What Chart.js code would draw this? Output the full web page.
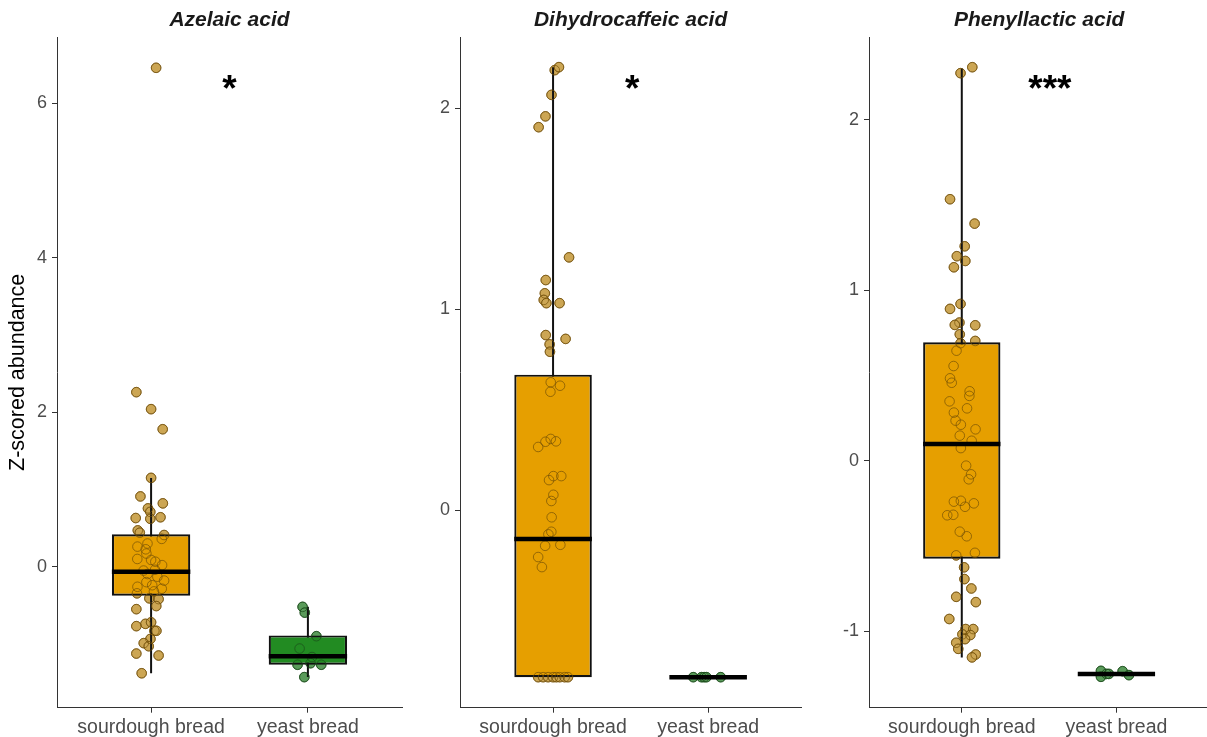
<!DOCTYPE html>
<html><head><meta charset="utf-8">
<script src="https://cdn.jsdelivr.net/npm/chart.js@4.4.1/dist/chart.umd.min.js"></script>
<style>
html,body{margin:0;padding:0;overflow:hidden;background:#fff;width:1207px;height:737px;}
canvas{position:absolute;top:0;}
</style></head>
<body>
<canvas id="c1" width="410" height="737" style="left:0px"></canvas>
<canvas id="c2" width="397" height="737" style="left:410px"></canvas>
<canvas id="c3" width="400" height="737" style="left:815px"></canvas>
<script>
// ---------- DATA ----------
const categories = ['sourdough bread', 'yeast bread'];
const panelTitles = ['Azelaic acid', 'Dihydrocaffeic acid', 'Phenyllactic acid'];
const significance = ['*', '*', '***'];
const sigX = [1.5, 1.51, 1.57];
const sigY = [6.27, 2.13, 2.22];
const yAxisTitle = 'Z-scored abundance';

// Azelaic acid
const azelaicTicks = [0, 2, 4, 6];
const azelaicRange = [-1.826, 6.859];
const azelaicWhiskerLow = [-1.38, -1.43];
const azelaicQ1 = [-0.375, -1.27];
const azelaicMedian = [-0.065, -1.16];
const azelaicQ3 = [0.42, -0.89];
const azelaicWhiskerHigh = [1.15, -0.52];
const azelaicSourdough = [6.46, 2.26, 2.04, 1.78, 1.15, 0.91, 0.82, 0.755, 0.71, 0.63, 0.64, 0.62, 0.47, 0.44, 0.41, 0.36, 0.30, 0.26, 0.225, 0.17, 0.10, 0.087, 0.065, 0.02, -0.05, -0.04, -0.095, -0.13, -0.18, -0.20, -0.24, -0.26, -0.285, -0.32, -0.345, -0.41, -0.42, -0.51, -0.55, -0.74, -0.72, -0.77, -0.83, -0.83, -0.935, -0.99, -1.03, -1.125, -1.15, -1.38];
const azelaicSourdoughJitter = [0.032, -0.094, 0, 0.074, 0, -0.068, 0.075, -0.02, -0.005, -0.098, 0.06, -0.005, -0.085, -0.072, 0.083, 0.068, -0.023, -0.087, -0.034, -0.03, -0.088, 0, 0.027, 0.07, -0.048, 0.025, -0.023, 0.04, 0.083, -0.03, 0.007, -0.087, 0.068, 0.018, -0.09, -0.011, 0.048, 0.033, -0.094, -0.036, 0, -0.094, 0.021, 0.034, -0.004, -0.047, -0.015, -0.094, 0.048, -0.06];
const azelaicYeast = [-0.52, -0.595, -0.90, -1.06, -1.17, -1.27, -1.25, -1.27, -1.43];
const azelaicYeastJitter = [-0.034, -0.02, 0.054, -0.053, 0.026, -0.066, 0.017, 0.085, -0.023];

// Dihydrocaffeic acid
const dihydroTicks = [0, 1, 2];
const dihydroRange = [-0.984, 2.355];
const dihydroWhiskerLow = [-0.832, -0.832];
const dihydroQ1 = [-0.832, -0.832];
const dihydroMedian = [-0.144, -0.832];
const dihydroQ3 = [0.674, -0.832];
const dihydroWhiskerHigh = [2.205, -0.832];
const dihydroSourdough = [2.19, 2.205, 2.067, 1.96, 1.906, 1.258, 1.145, 1.079, 1.046, 1.03, 1.03, 0.871, 0.852, 0.825, 0.788, 0.636, 0.619, 0.589, 0.314, 0.34, 0.354, 0.342, 0.149, 0.169, 0.169, 0.076, 0.045, -0.036, -0.108, -0.121, -0.178, -0.173, -0.234, -0.284, -0.832, -0.832, -0.832, -0.832, -0.832, -0.832, -0.832, -0.832];
const dihydroSourdoughJitter = [0.011, 0.038, -0.01, -0.049, -0.093, 0.103, -0.047, -0.053, -0.06, -0.043, 0.042, -0.047, 0.081, -0.022, -0.02, -0.015, 0.045, -0.017, -0.096, -0.049, -0.015, 0.019, -0.026, 0.002, 0.053, 0.002, -0.011, -0.009, -0.011, -0.03, -0.051, 0.047, -0.096, -0.072, -0.096, -0.064, -0.032, 0, 0.021, 0.043, 0.075, 0.096];
const dihydroYeast = [-0.832, -0.832, -0.832, -0.832, -0.832];
const dihydroYeastJitter = [-0.096, -0.043, -0.026, -0.011, 0.081];

// Phenyllactic acid
const phenylTicks = [-1, 0, 1, 2];
const phenylRange = [-1.448, 2.484];
const phenylWhiskerLow = [-1.153, -1.251];
const phenylQ1 = [-0.575, -1.251];
const phenylMedian = [0.098, -1.251];
const phenylQ3 = [0.694, -1.251];
const phenylWhiskerHigh = [2.30, -1.251];
const phenylSourdough = [2.272, 2.307, 1.533, 1.39, 1.257, 1.199, 1.171, 1.134, 0.919, 0.89, 0.81, 0.796, 0.794, 0.741, 0.702, 0.689, 0.645, 0.555, 0.483, 0.457, 0.407, 0.38, 0.348, 0.307, 0.282, 0.235, 0.211, 0.184, 0.147, 0.117, 0.074, -0.029, -0.08, -0.109, -0.24, -0.235, -0.27, -0.25, -0.32, -0.317, -0.416, -0.443, -0.555, -0.54, -0.625, -0.694, -0.749, -0.798, -0.829, -0.928, -0.987, -0.987, -1.018, -1.022, -1.046, -1.067, -1.103, -1.136, -1.153];
const phenylSourdoughJitter = [-0.008, 0.068, -0.076, 0.083, 0.019, -0.032, 0.023, -0.051, -0.008, -0.076, -0.015, -0.045, 0.087, -0.013, 0.087, -0.008, -0.034, -0.053, -0.076, -0.065, 0.051, 0.049, -0.079, 0.034, -0.051, -0.04, -0.006, 0.089, -0.013, 0.064, -0.006, 0.028, 0.06, 0.045, -0.051, -0.006, 0.021, 0.078, -0.094, -0.055, -0.013, 0.032, -0.036, 0.085, 0.015, 0.017, 0.062, -0.036, 0.091, -0.081, 0.025, 0.074, 0.004, 0.055, 0.021, -0.036, -0.023, 0.09, 0.066];
const phenylYeast = [-1.232, -1.267, -1.25, -1.25, -1.234, -1.257];
const phenylYeastJitter = [-0.1, -0.1, -0.064, -0.049, 0.04, 0.081];

// ---------- STYLE ----------
const FONT = '"Liberation Sans", Arial, Helvetica, sans-serif';
const BOX_HALF = 0.25;
const SIG_SIZE = 37;
const boxColors = ['#E69F00', '#228B22'];
const pointFill = ['#CCA654', '#5A9B5A'];
const pointEdge = ['rgba(135,102,40,0.75)', 'rgba(40,90,40,0.75)'];
const pointEdgeTop = ['rgba(115,80,5,0.7)', 'rgba(25,75,25,0.7)'];

Chart.defaults.font.family = FONT;
Chart.defaults.animation = false;

const panelText = {
  id: 'panelText',
  afterDatasetsDraw(chart, args, opts) {
    const {ctx, chartArea, scales} = chart;
    ctx.save();
    ctx.fillStyle = '#1a1a1a';
    ctx.font = 'italic bold 21px ' + FONT;
    ctx.textAlign = 'center';
    ctx.textBaseline = 'alphabetic';
    ctx.fillText(opts.title, (chartArea.left + chartArea.right) / 2, 26);
    ctx.fillStyle = '#000';
    ctx.font = 'bold ' + SIG_SIZE + 'px ' + FONT;
    const sx = scales.x.getPixelForValue(opts.sigX);
    const sy = scales.y.getPixelForValue(opts.sigY);
    ctx.fillText(opts.sig, sx, sy + 0.5 * SIG_SIZE);
    ctx.restore();
  }
};

function makePanel(id, idx, p, axisWidth, padRight, showTitle) {
  const datasets = [];
  const groups = [p.sour, p.yeast];
  const jit = [p.sourJ, p.yeastJ];
  categories.forEach((cat, i) => {
    const c = i + 1;
    const pts = groups[i].map((v, k) => ({x: c + jit[i][k], y: v}));
    datasets.push({type: 'scatter', data: pts, backgroundColor: pointFill[i], borderColor: pointEdge[i], borderWidth: 1, pointRadius: 4.8, order: 6});
    datasets.push({type: 'scatter', data: pts, backgroundColor: 'rgba(0,0,0,0)', borderColor: pointEdgeTop[i], borderWidth: 1, pointRadius: 4.8, order: 2});
    datasets.push({type: 'line', data: [{x: c, y: p.wlo[i]}, {x: c, y: p.whi[i]}], borderColor: '#111', borderWidth: 2, pointRadius: 0, order: 5});
    datasets.push({type: 'line', data: [{x: c - BOX_HALF, y: p.med[i]}, {x: c + BOX_HALF, y: p.med[i]}], borderColor: '#000', borderWidth: 4.5, borderCapStyle: 'butt', pointRadius: 0, order: 1});
  });
  datasets.push({type: 'bar', data: categories.map((c, i) => ({x: i + 1, y: [p.q1[i], p.q3[i]]})),
    backgroundColor: boxColors, borderColor: '#111', borderWidth: 2.2, borderSkipped: false,
    categoryPercentage: 1, barPercentage: 0.5, order: 4});

  new Chart(document.getElementById(id), {
    type: 'bar',
    data: {datasets},
    plugins: [panelText],
    options: {
      responsive: false,
      devicePixelRatio: 1,
      layout: {padding: {top: 37, right: padRight, bottom: 0, left: 0}},
      plugins: {
        legend: {display: false},
        tooltip: {enabled: false},
        panelText: {title: panelTitles[idx], sig: significance[idx], sigX: sigX[idx], sigY: sigY[idx]}
      },
      scales: {
        x: {
          type: 'linear', min: 0.4, max: 2.6, offset: false,
          grid: {display: true, drawOnChartArea: false, drawTicks: true, tickLength: 5, color: '#333', offset: false},
          border: {display: true, color: '#333', width: 1},
          ticks: {color: '#4D4D4D', font: {size: 19.5}, padding: 3, maxRotation: 0, autoSkip: false,
            callback: (v) => categories[Math.round(v) - 1]},
          afterBuildTicks: (s) => { s.ticks = categories.map((c, i) => ({value: i + 1})); },
          afterFit: (s) => { s.height = 29.3; }
        },
        y: {
          type: 'linear', min: p.range[0], max: p.range[1],
          grid: {display: true, drawOnChartArea: false, drawTicks: true, tickLength: 5, color: '#333'},
          border: {display: true, color: '#333', width: 1},
          ticks: {color: '#4D4D4D', font: {size: 18}, padding: 5, callback: (v) => String(v)},
          title: {display: showTitle, text: yAxisTitle, color: '#000', font: {size: 21.5}, padding: {top: 5, bottom: 0}},
          afterBuildTicks: (s) => { s.ticks = p.ticks.map(v => ({value: v})); },
          afterFit: (s) => { s.width = axisWidth; }
        }
      }
    }
  });
}

makePanel('c1', 0, {sour: azelaicSourdough, sourJ: azelaicSourdoughJitter, yeast: azelaicYeast, yeastJ: azelaicYeastJitter,
  wlo: azelaicWhiskerLow, q1: azelaicQ1, med: azelaicMedian, q3: azelaicQ3, whi: azelaicWhiskerHigh, ticks: azelaicTicks, range: azelaicRange}, 57, 8, true);
makePanel('c2', 1, {sour: dihydroSourdough, sourJ: dihydroSourdoughJitter, yeast: dihydroYeast, yeastJ: dihydroYeastJitter,
  wlo: dihydroWhiskerLow, q1: dihydroQ1, med: dihydroMedian, q3: dihydroQ3, whi: dihydroWhiskerHigh, ticks: dihydroTicks, range: dihydroRange}, 50, 4, false);
makePanel('c3', 2, {sour: phenylSourdough, sourJ: phenylSourdoughJitter, yeast: phenylYeast, yeastJ: phenylYeastJitter,
  wlo: phenylWhiskerLow, q1: phenylQ1, med: phenylMedian, q3: phenylQ3, whi: phenylWhiskerHigh, ticks: phenylTicks, range: phenylRange}, 54, 1, false);
</script>
</body></html>
